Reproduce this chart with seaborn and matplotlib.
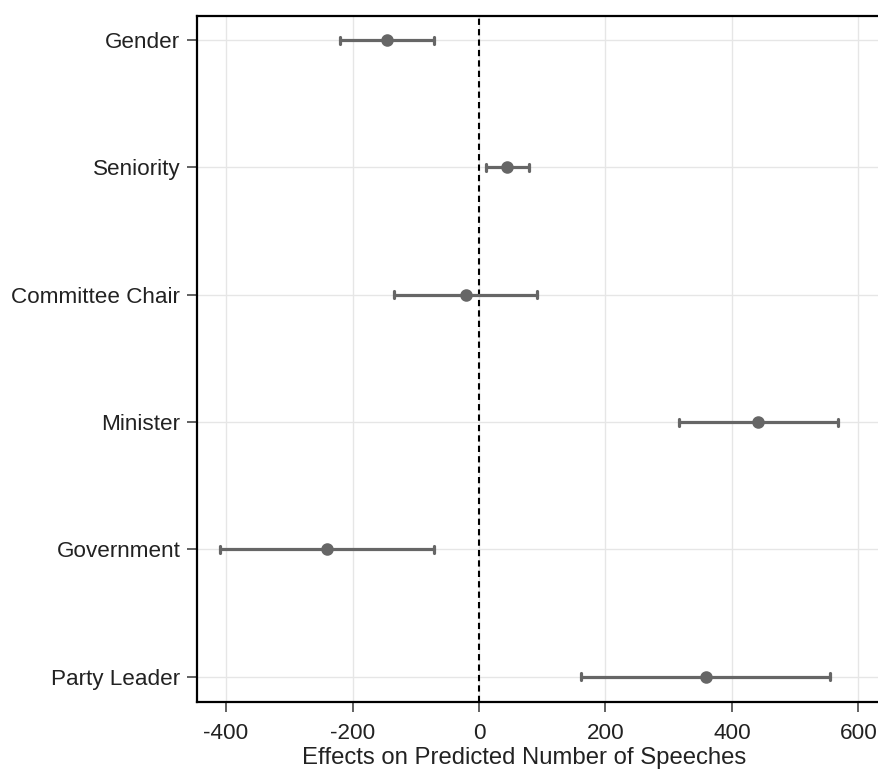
import numpy as np
import pandas as pd
import matplotlib
matplotlib.use("Agg")
import matplotlib.pyplot as plt
import seaborn as sns

# effects and 95% intervals
variables = ["Gender", "Seniority", "Committee Chair", "Minister", "Government", "Party Leader"]
estimate = [-146, 44, -21, 441, -240, 359]
lower = [-220, 11, -134, 316, -410, 161]
upper = [-71, 79, 92, 568, -71, 555]
xticks = [-400, -200, 0, 200, 400, 600]

# long table: lower / estimate / upper per variable -> median = estimate, min-max = interval
rows = []
for v, lo, e, hi in zip(variables, lower, estimate, upper):
    for val in (lo, e, hi):
        rows.append({"variable": v, "effect": val})
df = pd.DataFrame(rows)

sns.set_style("whitegrid")
plt.rcParams["font.family"] = ["Liberation Sans", "DejaVu Sans"]

fig = plt.figure(figsize=(8.79, 7.69), dpi=100)
ax = fig.add_axes([197 / 879, 1 - 702 / 769, 1 - 197 / 879 + 0.001, (702 - 16) / 769])

sns.pointplot(data=df, x="effect", y="variable", order=variables,
              estimator="median", errorbar=("pi", 100), orient="h",
              linestyle="none", color="#666666", markersize=7,
              err_kws={"linewidth": 2.3}, capsize=0.055, ax=ax)

ax.axvline(0, color="black", linestyle=(0, (3, 2)), linewidth=1.5, zorder=1)

ax.set_xlim(-446, 634)
ax.set_ylim(5.2, -0.19)
ax.set_xticks(xticks)
ax.set_xticklabels([str(t) for t in xticks])
ax.grid(True, color="#e6e6e6", linewidth=1)
ax.set_axisbelow(True)

for side in ["left", "top", "bottom"]:
    ax.spines[side].set_visible(True)
    ax.spines[side].set_color("black")
    ax.spines[side].set_linewidth(1.6)
ax.spines["right"].set_visible(False)

ax.tick_params(axis="both", which="major", length=7, width=1.3, color="#555555",
               labelsize=16.2, labelcolor="#222222", direction="out",
               bottom=True, left=True)
ax.tick_params(axis="y", pad=5)
ax.tick_params(axis="x", pad=8)

ax.set_ylabel("")
ax.set_xlabel("Effects on Predicted Number of Speeches", fontsize=17.2, color="#222222")
ax.xaxis.set_label_coords((524 - 197) / (879 - 197), -0.066)

fig.savefig("out.png", dpi=100)
